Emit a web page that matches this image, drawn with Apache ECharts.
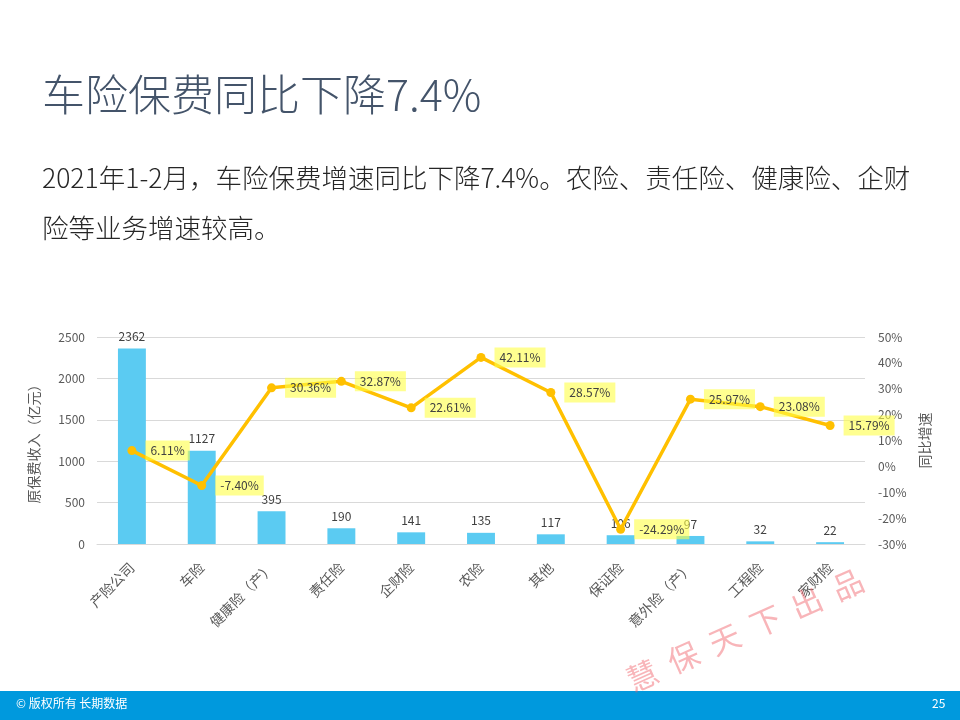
<!DOCTYPE html>
<html><head><meta charset="utf-8">
<script src="https://cdn.jsdelivr.net/npm/echarts@6/dist/echarts.min.js"></script>
<style>html,body{margin:0;padding:0;background:#fff}#c{width:960px;height:720px}</style>
</head><body><div id="c"></div>
<script>
const categories = ['产险公司','车险','健康险（产）','责任险','企财险','农险','其他','保证险','意外险（产）','工程险','家财险'];
const premium = [2362,1127,395,190,141,135,117,106,97,32,22];
const growth = [6.11,-7.40,30.36,32.87,22.61,42.11,28.57,-24.29,25.97,23.08,15.79];
const leftTicks = {min:0,max:2500,interval:500};
const rightTicks = {min:-30,max:50,interval:10};
const titleText = '车险保费同比下降7.4%';
const subLines = ['2021年1-2月，车险保费增速同比下降7.4%。农险、责任险、健康险、企财','险等业务增速较高。'];
const footerLeft = '© 版权所有 长期数据';
const pageNo = '25';
const watermark = '慧  保  天  下  出  品';

const FONT = '"Noto Sans CJK SC","Noto Sans",sans-serif';
const chart = echarts.init(document.getElementById('c'));
chart.setOption({
  animation:false,
  textStyle:{fontFamily:FONT},
  grid:{left:97,right:95,top:337,bottom:176},
  xAxis:{type:'category',data:categories,
    axisLine:{lineStyle:{color:'#D9D9D9'}},axisTick:{show:false},
    axisLabel:{rotate:45,color:'#595959',fontSize:14,margin:21,interval:0}},
  yAxis:[
    {type:'value',min:leftTicks.min,max:leftTicks.max,interval:leftTicks.interval,
     name:'原保费收入（亿元）',nameLocation:'middle',nameGap:56,nameRotate:90,
     nameTextStyle:{color:'#595959',fontSize:14},
     axisLine:{show:false},axisTick:{show:false},
     axisLabel:{color:'#595959',fontSize:12,margin:12,formatter:v=>String(v)},
     splitLine:{lineStyle:{color:'#D9D9D9',width:1}}},
    {type:'value',min:rightTicks.min,max:rightTicks.max,interval:rightTicks.interval,
     name:'同比增速',nameLocation:'middle',nameGap:53,nameRotate:90,
     nameTextStyle:{color:'#595959',fontSize:14},
     axisLine:{show:false},axisTick:{show:false},splitLine:{show:false},
     axisLabel:{color:'#595959',fontSize:12,margin:13,formatter:v=>v+'%'}}
  ],
  series:[
    {type:'bar',data:premium,barWidth:'40%',itemStyle:{color:'#5BCBF2'},
     label:{show:true,position:'top',distance:6,color:'#404040',fontSize:12}},
    {type:'line',yAxisIndex:1,data:growth,symbol:'circle',symbolSize:9,
     lineStyle:{color:'#FFC000',width:3.5},itemStyle:{color:'#FFC000'},
     label:{show:true,position:'right',distance:9,color:'#404040',fontSize:12,
       backgroundColor:'rgba(255,255,70,0.6)',padding:[4,5],
       formatter:p=>p.value.toFixed(2)+'%'}}
  ],
  graphic:[
    {type:'text',left:42,top:73,style:{text:titleText,fontFamily:FONT,fontSize:43,fontWeight:300,fill:'#44546A'}},
    {type:'text',left:42,top:165,style:{text:subLines[0],fontFamily:FONT,fontSize:26.5,fontWeight:300,fill:'#262626'}},
    {type:'text',left:42,top:215,style:{text:subLines[1],fontFamily:FONT,fontSize:26.5,fontWeight:300,fill:'#262626'}},
    {type:'rect',left:0,top:691,shape:{width:960,height:29},style:{fill:'#0099DD'}},
    {type:'text',left:16,top:697,style:{text:footerLeft,font:'12px '+FONT,fill:'#fff'}},
    {type:'text',left:932,top:697,style:{text:pageNo,font:'12px '+FONT,fill:'#fff'}},
    {type:'text',x:745,y:630,rotation:24*Math.PI/180,z:100,
     style:{text:watermark,fontFamily:FONT,fontSize:31,fontWeight:'normal',fill:'rgba(240,90,100,0.45)',
       align:'center',verticalAlign:'middle',shadowBlur:4,shadowColor:'rgba(0,0,0,0.25)',shadowOffsetX:2,shadowOffsetY:2}}
  ]
});
</script></body></html>
